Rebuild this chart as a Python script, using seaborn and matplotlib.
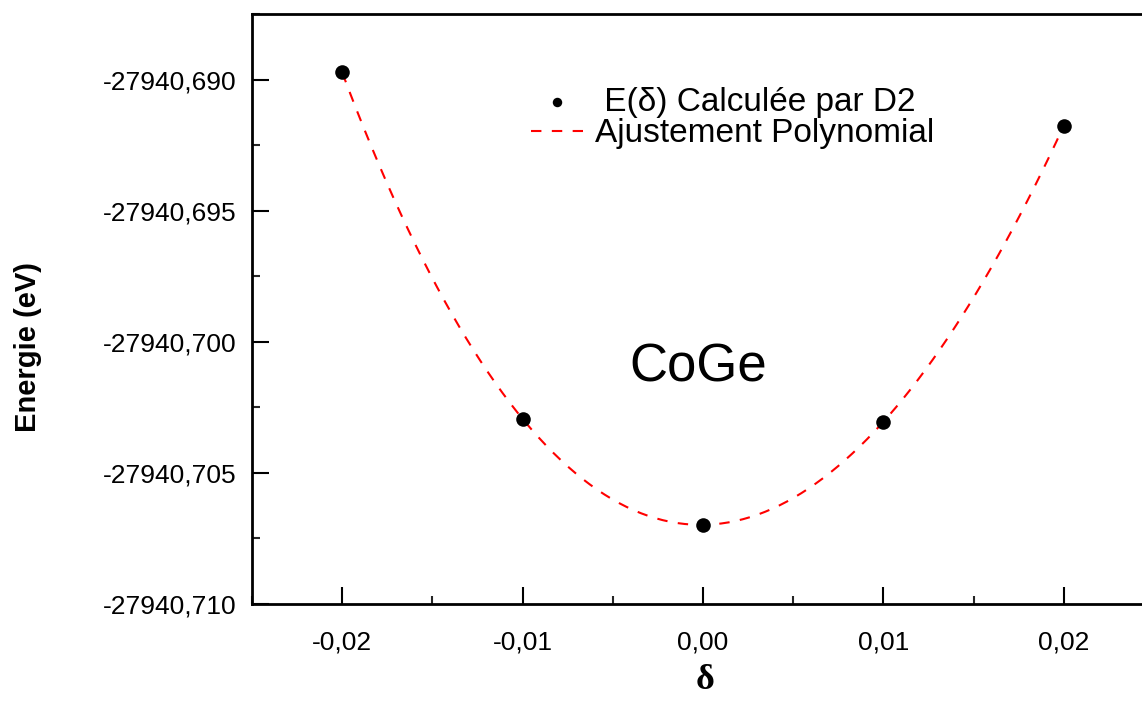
#  CoGe — E(delta) energy curve with polynomial fit

# ── Imports ──────────────────────────────────────────────────
import matplotlib
matplotlib.use("Agg")
import matplotlib.pyplot as plt
from matplotlib.ticker import FuncFormatter, MultipleLocator
import seaborn as sns
import pandas as pd

# ── Data ─────────────────────────────────────────────────────
delta = [-0.02, -0.01, 0.00, 0.01, 0.02]
energy = [-27940.68973, -27940.70294, -27940.70698, -27940.70305, -27940.69176]

x_ticks = [-0.02, -0.01, 0.00, 0.01, 0.02]
y_ticks = [-27940.710, -27940.705, -27940.700, -27940.695, -27940.690]

lbl_points = " E(δ) Calculée par D2"
lbl_fit = "Ajustement Polynomial"

df = pd.DataFrame({"delta": delta, "energy": energy})

# ── Style ────────────────────────────────────────────────────
sns.set_style("ticks")
plt.rcParams["font.family"] = ["Liberation Sans", "DejaVu Sans"]
plt.rcParams["text.color"] = "black"
plt.rcParams["axes.labelcolor"] = "black"

W, H = 1142, 702
AX_L, AX_B, AX_W, AX_H = 252, 98, 902, 590   # pixels; right spine lies past the edge
fig = plt.figure(figsize=(W / 100, H / 100), dpi=100)
ax = fig.add_axes([AX_L / W, AX_B / H, AX_W / W, AX_H / H])

# polynomial fit (dashed red)
sns.regplot(data=df, x="delta", y="energy", order=4, ci=None,
            scatter=False, ax=ax, label=lbl_fit,
            line_kws=dict(color="red", ls=(0, (5, 5)), lw=1.5))

# calculated points
sns.scatterplot(data=df, x="delta", y="energy", ax=ax, color="black",
                s=110, edgecolor="black", linewidth=0, zorder=5,
                label=lbl_points)

ax.set_xlim(-0.025, 0.025)
ax.set_ylim(-27940.710, -27940.6875)
ax.set_xticks(x_ticks)
ax.set_yticks(y_ticks)
ax.xaxis.set_minor_locator(MultipleLocator(0.005))
ax.yaxis.set_minor_locator(MultipleLocator(0.0025))

comma = lambda v, n: f"{v:.{n}f}".replace(".", ",")
ax.xaxis.set_major_formatter(FuncFormatter(lambda v, p: comma(v, 2)))
ax.yaxis.set_major_formatter(FuncFormatter(lambda v, p: comma(v, 3)))

ax.tick_params(which="major", direction="in", length=12, width=1.5,
               labelsize=19, pad=11, color="black", labelcolor="black")
ax.tick_params(which="minor", direction="in", length=6, width=1.5)
ax.tick_params(axis="x", which="major", pad=19)
for s in ax.spines.values():
    s.set_linewidth(2)
    s.set_color("black")

# axis labels (positions in reference pixels -> axes fraction)
px = lambda x: (x - AX_L) / AX_W
py = lambda y: (H - AX_B - y) / AX_H
ax.set_xlabel("δ", fontsize=26, fontweight="bold",
              family=["Liberation Serif", "DejaVu Serif"])
ax.xaxis.set_label_coords(px(705), py(664))
ax.set_ylabel("Energie (eV)", fontsize=21, fontweight="bold")
ax.yaxis.set_label_coords(px(42), py(347))

# compound name
ax.text(px(698), py(367), "CoGe", fontsize=38,
        ha="center", va="center", transform=ax.transAxes)

# legend: marker row first, then the dashed line
handles, labels = ax.get_legend_handles_labels()
order = [labels.index(lbl_points), labels.index(lbl_fit)]
ax.legend([handles[i] for i in order], [labels[i] for i in order],
          loc="upper left", bbox_to_anchor=(531 / W, 1 - 87 / H),
          bbox_transform=fig.transFigure, frameon=False, fontsize=24,
          borderpad=0, borderaxespad=0, handlelength=1.56,
          handletextpad=0.36, labelspacing=0.01, markerscale=0.65)

fig.savefig("out.png", dpi=100)
